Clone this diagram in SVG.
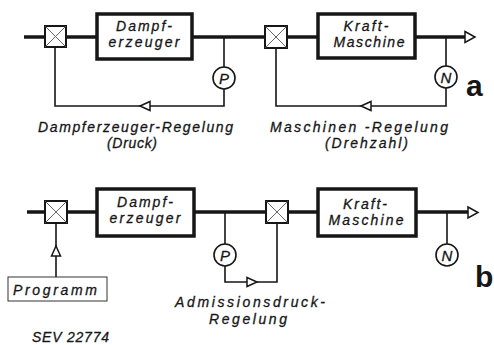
<svg xmlns="http://www.w3.org/2000/svg" width="494" height="345" viewBox="0 0 494 345">
<style>
.main{stroke:#161616;stroke-width:3.5;fill:none}
.fb{stroke:#161616;stroke-width:1.6;fill:none}
.box{fill:#fff;stroke:#161616;stroke-width:3.5}
.valve{fill:#fff;stroke:#161616;stroke-width:2}
.x{stroke:#555;stroke-width:0.9}
.circ{fill:#fff;stroke:#161616;stroke-width:1.6}
.arr{fill:#fff;stroke:#161616;stroke-width:1.5}
.prog{fill:#fff;stroke:#333;stroke-width:1}
text{font-family:"Liberation Sans","DejaVu Sans",sans-serif;font-style:italic;fill:#161616;stroke:#161616;stroke-width:0.3;font-size:14px}
.t{text-anchor:middle}
.sym{font-size:15px;text-anchor:middle}
.big{font-size:30px;font-style:normal;font-weight:bold;stroke-width:0}
</style>
<rect width="494" height="345" fill="#fff"/>

<g id="connectors">
<!-- a -->
<line class="main" x1="24" y1="37" x2="465" y2="37"/>
<polygon class="arr" points="465,31.5 475,37 465,42.5"/>
<polyline class="fb" points="224,37 224,106 55,106 55,47"/>
<polygon class="arr" points="140,106 150,101.5 150,110.5"/>
<polyline class="fb" points="446,37 446,106 276,106 276,48"/>
<polygon class="arr" points="361,106 371,101.5 371,110.5"/>
<!-- b -->
<line class="main" x1="27" y1="212" x2="468" y2="212"/>
<polygon class="arr" points="468,207 478,212.5 468,218"/>
<polyline class="fb" points="225,212 225,282 277,282 277,223"/>
<polygon class="arr" points="247,277.5 257,282 247,286.5"/>
<line class="fb" x1="56" y1="277" x2="56" y2="223"/>
<polygon class="arr" points="56,246 51.5,256 60.5,256"/>
<line class="fb" x1="447" y1="212" x2="447" y2="244"/>
</g>

<g id="a-valve1"><rect class="valve" x="45" y="26" width="21" height="21"/><path class="x" d="M45,26L66,47M66,26L45,47"/></g>
<g id="a-dampferzeuger"><rect class="box" x="97" y="14" width="95" height="45"/>
<text class="t" x="144" y="31" textLength="56" lengthAdjust="spacing">Dampf-</text>
<text class="t" x="144" y="47" textLength="71" lengthAdjust="spacing">erzeuger</text></g>
<g id="a-P"><circle class="circ" cx="224" cy="78" r="11"/><text class="sym" x="224" y="83.5">P</text></g>
<g id="a-valve2"><rect class="valve" x="265" y="26" width="22" height="22"/><path class="x" d="M265,26L287,48M287,26L265,48"/></g>
<g id="a-kraftmaschine"><rect class="box" x="318" y="14" width="97" height="44"/>
<text class="t" x="366" y="31" textLength="45" lengthAdjust="spacing">Kraft-</text>
<text class="t" x="369" y="47" textLength="71" lengthAdjust="spacing">Maschine</text></g>
<g id="a-N"><circle class="circ" cx="446" cy="77" r="11"/><text class="sym" x="446" y="82.5">N</text></g>
<g id="a-labels">
<text x="38" y="132" textLength="195" lengthAdjust="spacing">Dampferzeuger-Regelung</text>
<text x="107" y="148" textLength="50" lengthAdjust="spacing">(Druck)</text>
<text x="270" y="132" textLength="178" lengthAdjust="spacing">Maschinen -Regelung</text>
<text x="325" y="148" textLength="83" lengthAdjust="spacing">(Drehzahl)</text>
<text class="big" x="466" y="96">a</text>
</g>

<g id="b-valve1"><rect class="valve" x="45" y="201" width="22" height="22"/><path class="x" d="M45,201L67,223M67,201L45,223"/></g>
<g id="b-programm"><rect class="prog" x="8" y="277" width="99" height="24"/>
<text x="13" y="295" textLength="84" lengthAdjust="spacing">Programm</text></g>
<g id="b-dampferzeuger"><rect class="box" x="97" y="189" width="97" height="47"/>
<text class="t" x="145" y="207" textLength="56" lengthAdjust="spacing">Dampf-</text>
<text class="t" x="145" y="223" textLength="71" lengthAdjust="spacing">erzeuger</text></g>
<g id="b-P"><circle class="circ" cx="225" cy="255" r="11"/><text class="sym" x="225" y="260.5">P</text></g>
<g id="b-valve2"><rect class="valve" x="266" y="201" width="22" height="22"/><path class="x" d="M266,201L288,223M288,201L266,223"/></g>
<g id="b-kraftmaschine"><rect class="box" x="318" y="189" width="98" height="47"/>
<text class="t" x="365" y="209" textLength="44" lengthAdjust="spacing">Kraft-</text>
<text class="t" x="366" y="225" textLength="75" lengthAdjust="spacing">Maschine</text></g>
<g id="b-N"><circle class="circ" cx="447" cy="255" r="11"/><text class="sym" x="447" y="260.5">N</text></g>
<g id="b-labels">
<text x="175" y="307" textLength="150" lengthAdjust="spacing">Admissionsdruck-</text>
<text x="209" y="324" textLength="78" lengthAdjust="spacing">Regelung</text>
<text class="big" x="475" y="287">b</text>
<text x="32" y="342" font-size="13" textLength="77" lengthAdjust="spacing">SEV 22774</text>
</g>
</svg>
